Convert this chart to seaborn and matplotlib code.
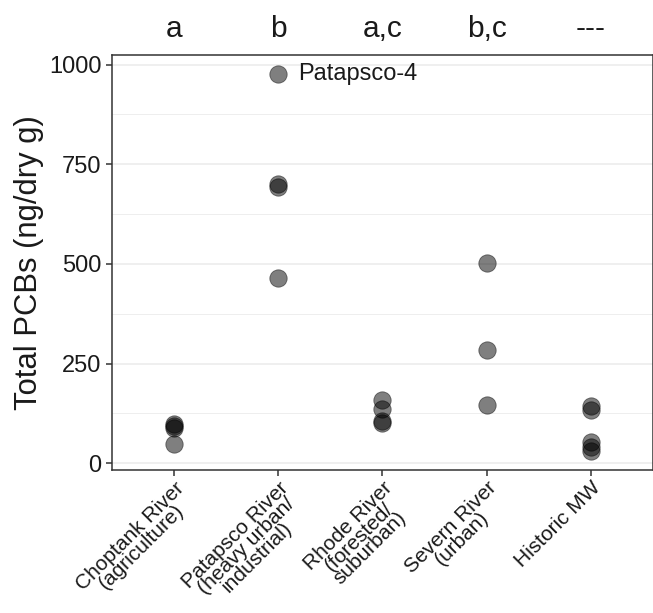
import matplotlib
matplotlib.use("Agg")
import matplotlib.pyplot as plt
import seaborn as sns
import pandas as pd
from matplotlib.ticker import MultipleLocator

# Site labels (x axis) and significance letters shown above each column
sites = [
    "Choptank River\n(agriculture)",
    "Patapsco River\n(heavy urban/\nindustrial)",
    "Rhode River\n(forested/\nsuburban)",
    "Severn River\n(urban)",
    "Historic MW",
]
letters = ["a", "b", "a,c", "b,c", "---"]

# Total PCB concentrations (ng/dry g) per site
choptank = [48, 88, 93, 99]
patapsco = [977, 701, 692, 465]
rhode = [159, 137, 107, 100]
severn = [501, 284, 147]
historic = [143, 133, 52, 40, 30]

yticks = [0, 250, 500, 750, 1000]
highlight_label = "Patapsco-4"
highlight_value = 977

values = [choptank, patapsco, rhode, severn, historic]
df = pd.DataFrame(
    [(s, v) for s, vals in zip(sites, values) for v in vals],
    columns=["site", "pcb"],
)

sns.set_style("white")
plt.rcParams["font.family"] = ["Liberation Sans", "DejaVu Sans"]

fig = plt.figure(figsize=(6.53, 6.13), dpi=100)
ax = fig.add_axes([0.1715, 0.2333, 0.8285, 0.677])

sns.stripplot(
    data=df, x="site", y="pcb", order=sites, jitter=False,
    color="black", alpha=0.5, size=12.5, linewidth=0.6,
    edgecolor="black", ax=ax, zorder=3,
)

ax.set_ylim(-17, 1024)
ax.set_xlim(-0.6, len(sites) - 0.4)
ax.set_yticks(yticks)
ax.yaxis.set_minor_locator(MultipleLocator(125))
ax.grid(axis="y", which="major", color="#ebebeb", linewidth=1.1, zorder=0)
ax.grid(axis="y", which="minor", color="#ebebeb", linewidth=0.6, zorder=0)
ax.grid(axis="x", visible=False)
ax.set_axisbelow(True)

for side in ["left", "bottom", "top", "right"]:
    ax.spines[side].set_visible(True)
    ax.spines[side].set_color("#333333")
    ax.spines[side].set_linewidth(1.1)

ax.tick_params(axis="both", which="major", direction="out", length=4,
               width=1.1, color="#333333", labelcolor="#1a1a1a",
               left=True, bottom=True)
ax.tick_params(axis="y", which="major", labelsize=17, pad=3.5)
ax.tick_params(axis="x", which="major", pad=2)
ax.tick_params(axis="y", which="minor", left=False)

ax.set_xticks(range(len(sites)))
ax.set_xticklabels(sites, rotation=45, ha="right", va="top",
                   rotation_mode="anchor", multialignment="center",
                   linespacing=0.78, fontsize=15)
ax.set_xlabel("")
ax.set_ylabel("Total PCBs (ng/dry g)", fontsize=22.3, color="#1a1a1a",
              labelpad=4)

# Group letters above the panel
for i, lab in enumerate(letters):
    ax.annotate(lab, xy=(i, 1.0), xycoords=("data", "axes fraction"),
                xytext=(0, 8.5), textcoords="offset points",
                ha="center", va="bottom", fontsize=21.5, color="#1a1a1a")

# Label the outlying Patapsco sample
ax.annotate(highlight_label, xy=(1, highlight_value), xycoords="data",
            xytext=(14, 0), textcoords="offset points",
            ha="left", va="center", fontsize=17, color="#1a1a1a")

fig.savefig("out.png", dpi=100)
